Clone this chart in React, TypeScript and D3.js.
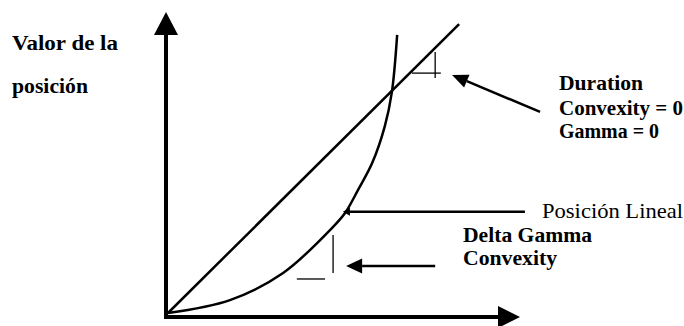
import React from "react";
import * as d3 from "d3";

const W = 684;
const H = 326;

// Curve (convex position value) points, in data units
const curveX = [0, 1.76, 3.27, 4.69, 5.03, 5.4, 5.8, 6.16, 6.36, 6.51];
const curveY = [0, 0.43, 1.33, 2.86, 3.32, 4.09, 4.98, 6.21, 7.34, 9.24];

// Linear position (straight line)
const lineX = [0, 8.27];
const lineY = [0, 9.6];

// Small step markers [x1, y1, x2, y2]
const markerSegments = [
  [6.93, 7.97, 7.75, 7.97],
  [7.59, 8.67, 7.59, 7.81],
  [4.69, 2.59, 4.69, 1.33],
  [3.66, 1.13, 4.46, 1.13],
];

// Annotation arrows: from (x1,y1) to tip (x2,y2), head length, head half width
const arrowFrom = [
  [10.57, 6.68],
  [10.14, 3.36],
  [7.59, 1.56],
];
const arrowTo = [
  [8.07, 7.91],
  [4.97, 3.36],
  [5.06, 1.56],
];
const arrowHead = [
  [16, 7],
  [7, 4],
  [16, 7.5],
];

const axisLabels = ["Valor de la", "posición"];
const durationLabels = ["Duration", "Convexity = 0", "Gamma = 0"];
const linealLabel = "Posición Lineal";
const deltaLabels = ["Delta Gamma", "Convexity"];

const FONT = "Liberation Serif";

export default function App() {
  const x = d3.scaleLinear().domain([0, 10]).range([168, 520]);
  const y = d3.scaleLinear().domain([0, 10]).range([313, 12]);

  const curveData = curveX.map((v, i) => [v, curveY[i]] as [number, number]);
  const lineData = lineX.map((v, i) => [v, lineY[i]] as [number, number]);

  const curvePath = d3
    .line<[number, number]>()
    .x((d) => x(d[0]))
    .y((d) => y(d[1]))
    .curve(d3.curveCatmullRom.alpha(0.5))(curveData);
  const straightPath = d3
    .line<[number, number]>()
    .x((d) => x(d[0]))
    .y((d) => y(d[1]))(lineData);

  const ax = x(0) - 2; // y axis position
  const ay = y(0) + 4; // x axis position
  const yTop = y(10);
  const xEnd = x(10);

  const arrowEls = arrowFrom.map((f, i) => {
    const t = arrowTo[i];
    const x1 = x(f[0]),
      y1 = y(f[1]),
      x2 = x(t[0]),
      y2 = y(t[1]);
    const ang = Math.atan2(y2 - y1, x2 - x1);
    const [len, hw] = arrowHead[i];
    const bx = x2 - len * Math.cos(ang);
    const by = y2 - len * Math.sin(ang);
    const px = -Math.sin(ang) * hw;
    const py = Math.cos(ang) * hw;
    return (
      <g key={i}>
        <line x1={x1} y1={y1} x2={bx} y2={by} stroke="#000" strokeWidth={2.5} />
        <path
          d={`M${x2},${y2}L${bx + px},${by + py}L${bx - px},${by - py}Z`}
          fill="#000"
        />
      </g>
    );
  });

  return (
    <svg
      width={W}
      height={H}
      style={{ position: "absolute", left: 0, top: 0, background: "#fff" }}
    >
      <rect width={W} height={H} fill="#fff" />
      {/* axes */}
      <line x1={ax} y1={ay} x2={ax} y2={yTop + 22} stroke="#000" strokeWidth={4} />
      <path d={`M${ax},${yTop}L${ax - 12},${yTop + 23}L${ax + 12},${yTop + 23}Z`} fill="#000" />
      <line x1={ax - 2} y1={ay} x2={xEnd - 21} y2={ay} stroke="#000" strokeWidth={4} />
      <path d={`M${xEnd},${ay}L${xEnd - 22},${ay - 11}L${xEnd - 22},${ay + 11}Z`} fill="#000" />

      {/* lines */}
      <path d={straightPath || ""} fill="none" stroke="#000" strokeWidth={2.5} />
      <path d={curvePath || ""} fill="none" stroke="#000" strokeWidth={2.5} />

      {markerSegments.map((s, i) => (
        <line
          key={i}
          x1={x(s[0])}
          y1={y(s[1])}
          x2={x(s[2])}
          y2={y(s[3])}
          stroke="#000"
          strokeWidth={1.3}
        />
      ))}

      {arrowEls}

      {/* labels */}
      <g fontFamily={FONT} fontWeight="bold" fill="#000">
        <text x={12} y={50} fontSize={21} textLength={106} lengthAdjust="spacingAndGlyphs">
          {axisLabels[0]}
        </text>
        <text x={12} y={93} fontSize={21} textLength={76} lengthAdjust="spacingAndGlyphs">
          {axisLabels[1]}
        </text>

        <text x={559} y={90} fontSize={20} textLength={84} lengthAdjust="spacingAndGlyphs">
          {durationLabels[0]}
        </text>
        <text x={559} y={115} fontSize={20} textLength={124} lengthAdjust="spacingAndGlyphs">
          {durationLabels[1]}
        </text>
        <text x={559} y={138} fontSize={20} textLength={100} lengthAdjust="spacingAndGlyphs">
          {durationLabels[2]}
        </text>

        <text x={463} y={242} fontSize={20} textLength={129} lengthAdjust="spacingAndGlyphs">
          {deltaLabels[0]}
        </text>
        <text x={463} y={265} fontSize={20} textLength={94} lengthAdjust="spacingAndGlyphs">
          {deltaLabels[1]}
        </text>
      </g>
      <text
        x={542}
        y={218}
        fontSize={21}
        fontFamily={FONT}
        fontWeight="normal"
        textLength={141}
        lengthAdjust="spacingAndGlyphs"
      >
        {linealLabel}
      </text>
    </svg>
  );
}
